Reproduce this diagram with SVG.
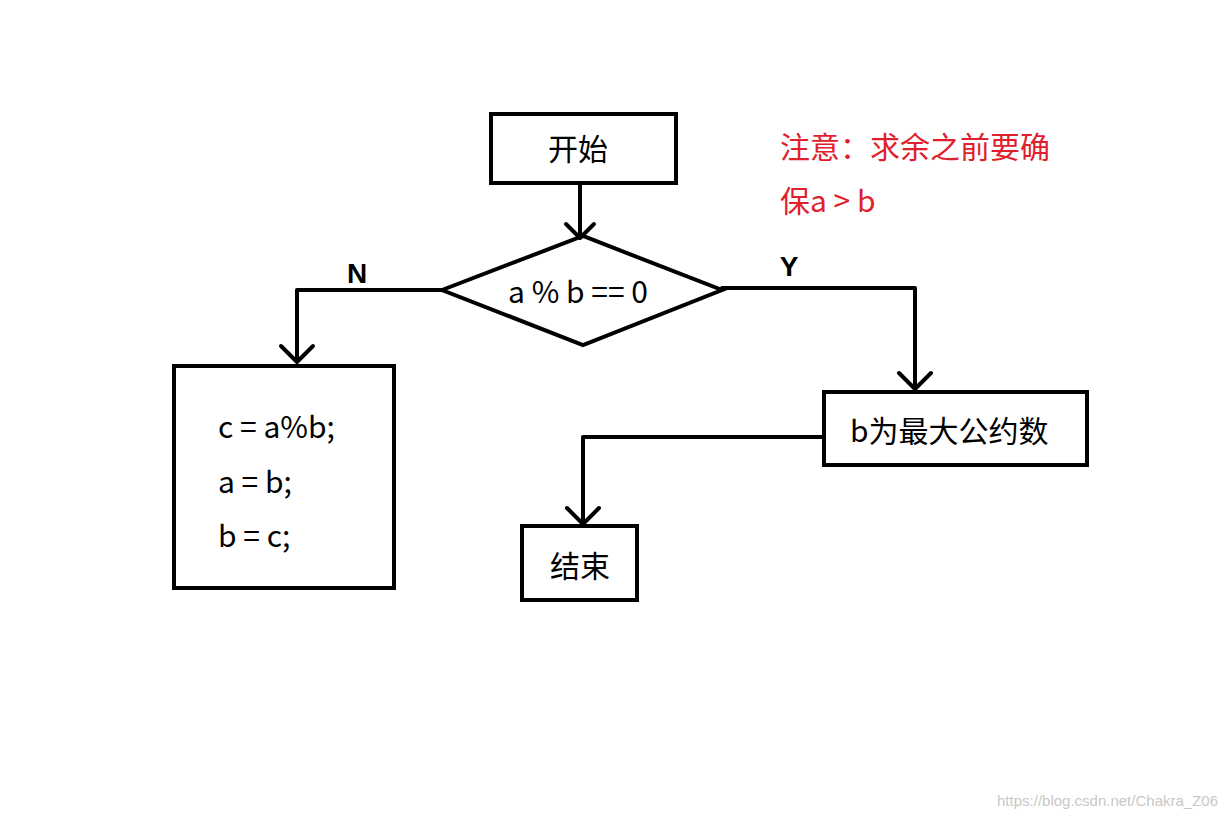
<svg xmlns="http://www.w3.org/2000/svg" width="1227" height="818" viewBox="0 0 1227 818">
<style>
.n{fill:none;stroke:#000;stroke-width:4}
.c{fill:none;stroke:#000;stroke-width:4;stroke-linejoin:round;stroke-linecap:round}
text{font-family:"Microsoft YaHei","Noto Sans CJK SC","Noto Sans",sans-serif;font-size:30px;fill:#000}
.r{fill:#e0202a}
.b{font-family:"Liberation Sans",sans-serif;font-weight:bold;font-size:28px}
</style>
<rect width="1227" height="818" fill="#fff"/>
<g id="start"><rect class="n" x="491" y="114" width="185" height="69"/><text x="578" y="160" text-anchor="middle">开始</text></g>
<g id="decision"><polygon class="n" points="442,290 583,236 722,290 583,345"/><text x="578" y="303" text-anchor="middle">a % b == 0</text></g>
<g id="loop"><rect class="n" x="174" y="366" width="220" height="222"/><text x="218" y="438">c = a%b;</text><text x="218" y="493">a = b;</text><text x="218" y="547">b = c;</text></g>
<g id="result"><rect class="n" x="824" y="392" width="263" height="73"/><text x="850" y="442">b为最大公约数</text></g>
<g id="end"><rect class="n" x="522" y="526" width="115" height="74"/><text x="550" y="577">结束</text></g>
<g id="connectors">
<path class="c" d="M580,183 V238 M566,224 L580,238 L594,224"/>
<path class="c" d="M442,290 H297 V362 M281,346 L297,362 L313,346"/>
<path class="c" d="M722,288 H915 V389 M899,373 L915,389 L931,373"/>
<path class="c" d="M824,437 H583 V524 M567,508 L583,524 L599,508"/>
<text class="b" x="357" y="283" text-anchor="middle">N</text>
<text class="b" x="789" y="276" text-anchor="middle">Y</text>
</g>
<g id="note"><text class="r" x="780" y="158">注意：求余之前要确</text><text class="r" x="780" y="212">保a &gt; b</text></g>
<text x="1218" y="806" text-anchor="end" style="font-size:15px;fill:#c8c8c8;font-family:'Liberation Sans',sans-serif">https://blog.csdn.net/Chakra_Z06</text>
</svg>
